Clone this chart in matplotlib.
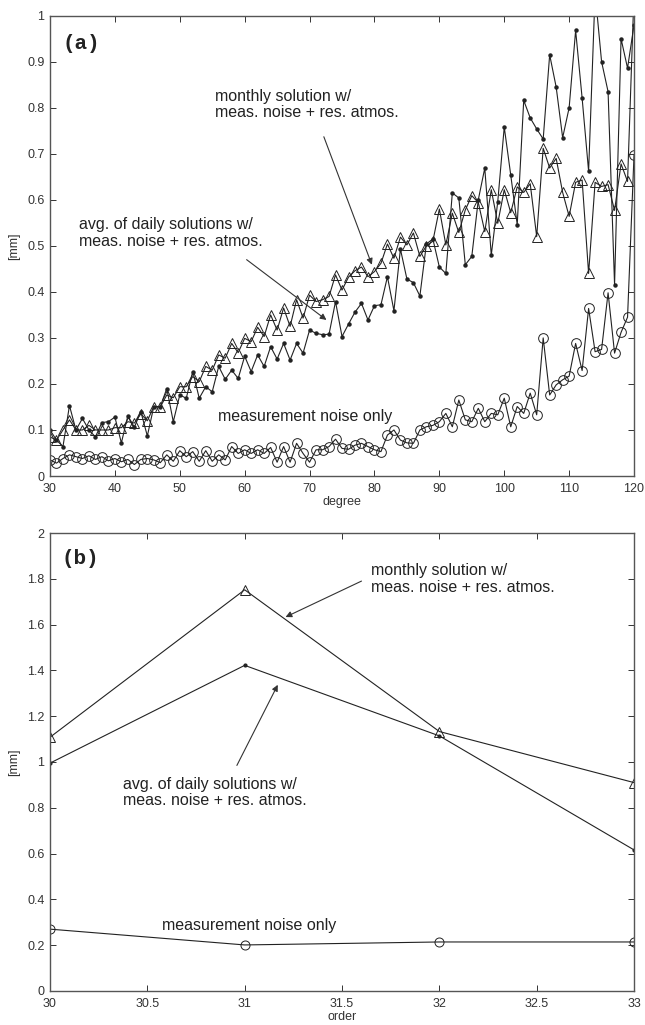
import matplotlib
matplotlib.use("Agg")
import matplotlib.pyplot as plt
import numpy as np

# ---------------- data: panel (a) ----------------
degree = list(range(30, 121))

monthly_a = [0.085, 0.078, 0.100, 0.122, 0.100, 0.100, 0.110, 0.100, 0.100, 0.100,
             0.105, 0.105, 0.118, 0.115, 0.135, 0.120, 0.151, 0.150, 0.176, 0.170,
             0.194, 0.194, 0.216, 0.205, 0.238, 0.230, 0.263, 0.256, 0.288, 0.268,
             0.299, 0.292, 0.323, 0.303, 0.350, 0.317, 0.365, 0.325, 0.383, 0.343,
             0.393, 0.379, 0.383, 0.390, 0.437, 0.404, 0.432, 0.446, 0.454, 0.433,
             0.444, 0.462, 0.504, 0.473, 0.519, 0.502, 0.528, 0.477, 0.500, 0.510,
             0.580, 0.502, 0.571, 0.529, 0.578, 0.609, 0.594, 0.531, 0.622, 0.549,
             0.622, 0.572, 0.628, 0.616, 0.635, 0.520, 0.712, 0.669, 0.690, 0.616,
             0.564, 0.638, 0.643, 0.440, 0.638, 0.629, 0.633, 0.577, 0.678, 0.640,
             1.050]

daily_a = [0.100, 0.078, 0.064, 0.153, 0.100, 0.125, 0.100, 0.085, 0.116, 0.118,
           0.128, 0.072, 0.131, 0.106, 0.140, 0.087, 0.151, 0.151, 0.190, 0.118,
           0.176, 0.169, 0.227, 0.169, 0.194, 0.183, 0.238, 0.210, 0.230, 0.212,
           0.260, 0.227, 0.263, 0.238, 0.281, 0.254, 0.288, 0.252, 0.288, 0.267,
           0.317, 0.310, 0.307, 0.308, 0.379, 0.303, 0.330, 0.356, 0.375, 0.339,
           0.370, 0.372, 0.433, 0.359, 0.493, 0.428, 0.420, 0.391, 0.504, 0.515,
           0.454, 0.440, 0.615, 0.604, 0.459, 0.477, 0.600, 0.669, 0.480, 0.596,
           0.758, 0.654, 0.546, 0.816, 0.778, 0.754, 0.732, 0.915, 0.845, 0.735,
           0.800, 0.968, 0.821, 0.662, 1.050, 0.900, 0.835, 0.415, 0.950, 0.886,
           0.980]

noise_a = [0.035, 0.028, 0.038, 0.046, 0.042, 0.038, 0.044, 0.036, 0.042, 0.033,
           0.038, 0.031, 0.036, 0.025, 0.036, 0.038, 0.035, 0.029, 0.046, 0.032,
           0.055, 0.042, 0.053, 0.032, 0.055, 0.032, 0.046, 0.035, 0.064, 0.049,
           0.057, 0.049, 0.057, 0.049, 0.062, 0.030, 0.064, 0.030, 0.071, 0.049,
           0.030, 0.057, 0.057, 0.064, 0.080, 0.060, 0.058, 0.067, 0.071, 0.064,
           0.057, 0.053, 0.089, 0.100, 0.078, 0.072, 0.071, 0.100, 0.107, 0.110,
           0.118, 0.136, 0.107, 0.165, 0.122, 0.118, 0.147, 0.118, 0.136, 0.133,
           0.169, 0.107, 0.151, 0.136, 0.180, 0.133, 0.300, 0.176, 0.198, 0.209,
           0.217, 0.288, 0.229, 0.364, 0.270, 0.275, 0.398, 0.267, 0.312, 0.345,
           0.698]

# ---------------- data: panel (b) ----------------
order = [30, 31, 32, 33]
monthly_b = [1.108, 1.752, 1.133, 0.910]
daily_b = [0.995, 1.422, 1.114, 0.616]
noise_b = [0.270, 0.201, 0.214, 0.214]

xticks_a = list(range(30, 121, 10))
yticks_a = [0, 0.1, 0.2, 0.3, 0.4, 0.5, 0.6, 0.7, 0.8, 0.9, 1]
yticklabels_a = ["0", "0.1", "0.2", "0.3", "0.4", "0.5", "0.6", "0.7", "0.8", "0.9", "1"]
xticks_b = [30, 30.5, 31, 31.5, 32, 32.5, 33]
xticklabels_b = ["30", "30.5", "31", "31.5", "32", "32.5", "33"]
yticks_b = [0, 0.2, 0.4, 0.6, 0.8, 1, 1.2, 1.4, 1.6, 1.8, 2]
yticklabels_b = ["0", "0.2", "0.4", "0.6", "0.8", "1", "1.2", "1.4", "1.6", "1.8", "2"]

label_monthly = "monthly solution w/\nmeas. noise + res. atmos."
label_daily = "avg. of daily solutions w/\nmeas. noise + res. atmos."
label_noise = "measurement noise only"

# ---------------- style ----------------
sans = ["Liberation Sans Narrow", "Liberation Sans", "DejaVu Sans"]
plt.rcParams["font.family"] = sans
LC = "#222222"

fig = plt.figure(figsize=(6.45, 10.25), dpi=100)
ax1 = fig.add_axes([0.0775, 0.5356, 0.9055, 0.4491])
ax2 = fig.add_axes([0.0775, 0.0332, 0.9055, 0.4468])


def style(ax):
    ax.tick_params(direction="in", top=True, right=True, length=4, width=0.7,
                   labelsize=9, colors="#333333")
    ax.tick_params(axis="x", pad=5)
    ax.tick_params(axis="y", pad=4)
    for s in ax.spines.values():
        s.set_color("#555555")
        s.set_linewidth(1.0)


# panel (a)
ax1.plot(degree, noise_a, color=LC, lw=0.8, marker="o", ms=7, mfc="none",
         mec=LC, mew=0.7)
ax1.plot(degree, monthly_a, color=LC, lw=0.8, marker="^", ms=7, mfc="none",
         mec=LC, mew=0.7)
ax1.plot(degree, daily_a, color=LC, lw=0.8, marker="o", ms=2.2, mfc=LC, mec=LC)
ax1.set_xlim(30, 120)
ax1.set_ylim(0, 1)
ax1.set_xticks(xticks_a)
ax1.set_yticks(yticks_a)
ax1.set_yticklabels(yticklabels_a)
ax1.set_xlabel("degree", fontsize=9, color="#333333", labelpad=1)
ax1.set_ylabel("[mm]", fontsize=9, color="#333333", labelpad=5)
style(ax1)

ax1.text(32.0, 0.94, "(a)", family=["Liberation Mono", "DejaVu Sans Mono"],
         fontweight="bold", fontsize=15, va="center", ha="left", color="#222222")
ax1.text(55.4, 0.807, label_monthly, fontsize=11.5, ha="left", va="center",
         linespacing=1.15, color="#222222")
ax1.annotate("", xy=(79.6, 0.459), xytext=(72.2, 0.737),
             arrowprops=dict(arrowstyle="-|>", color="#333333", lw=0.8,
                             mutation_scale=9, shrinkA=0, shrinkB=0))
ax1.text(34.4, 0.528, label_daily, fontsize=11.5, ha="left", va="center",
         linespacing=1.15, color="#222222")
ax1.annotate("", xy=(72.6, 0.339), xytext=(60.3, 0.47),
             arrowprops=dict(arrowstyle="-|>", color="#333333", lw=0.8,
                             mutation_scale=9, shrinkA=0, shrinkB=0))
ax1.text(55.9, 0.129, label_noise, fontsize=11.5, ha="left", va="center",
         color="#222222")

# panel (b)
ax2.plot(order, noise_b, color=LC, lw=0.8, marker="o", ms=6.5, mfc="none",
         mec=LC, mew=0.7)
ax2.plot(order, monthly_b, color=LC, lw=0.8, marker="^", ms=6.5, mfc="none",
         mec=LC, mew=0.7)
ax2.plot(order, daily_b, color=LC, lw=0.8, marker="o", ms=2.0, mfc=LC, mec=LC)
ax2.set_xlim(30, 33)
ax2.set_ylim(0, 2)
ax2.set_xticks(xticks_b)
ax2.set_xticklabels(xticklabels_b)
ax2.set_yticks(yticks_b)
ax2.set_yticklabels(yticklabels_b)
ax2.set_xlabel("order", fontsize=9, color="#333333", labelpad=1)
ax2.set_ylabel("[mm]", fontsize=9, color="#333333", labelpad=5)
style(ax2)

ax2.text(30.06, 1.89, "(b)", family=["Liberation Mono", "DejaVu Sans Mono"],
         fontweight="bold", fontsize=15, va="center", ha="left", color="#222222")
ax2.text(31.65, 1.80, label_monthly, fontsize=11.5, ha="left", va="center",
         linespacing=1.15, color="#222222")
ax2.annotate("", xy=(31.21, 1.633), xytext=(31.6, 1.79),
             arrowprops=dict(arrowstyle="-|>", color="#333333", lw=0.8,
                             mutation_scale=9, shrinkA=0, shrinkB=0))
ax2.text(30.376, 0.867, label_daily, fontsize=11.5, ha="left", va="center",
         linespacing=1.15, color="#222222")
ax2.annotate("", xy=(31.17, 1.337), xytext=(30.96, 0.985),
             arrowprops=dict(arrowstyle="-|>", color="#333333", lw=0.8,
                             mutation_scale=9, shrinkA=0, shrinkB=0))
ax2.text(30.576, 0.288, label_noise, fontsize=11.5, ha="left", va="center",
         color="#222222")

fig.savefig("out.png", dpi=100)
